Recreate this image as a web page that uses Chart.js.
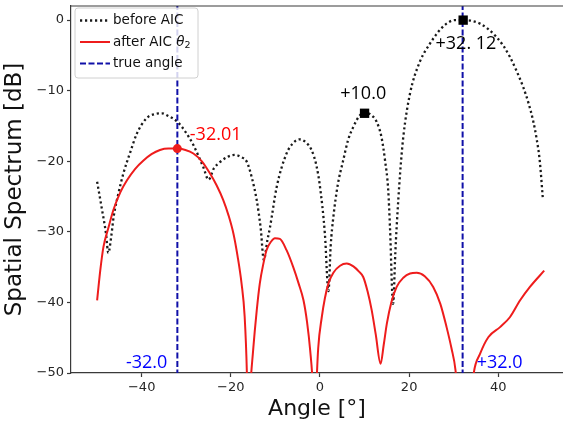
<!DOCTYPE html>
<html><head><meta charset="utf-8">
<script src="https://cdn.jsdelivr.net/npm/chart.js@4/dist/chart.umd.min.js"></script>
<style>html,body{margin:0;padding:0;background:#fff;overflow:hidden}canvas{display:block}</style>
</head><body>
<canvas id="c" width="563" height="426"></canvas>
<script>
// ---- data ----
const beforeX = [-50,-49,-48,-47.5,-46.8,-46.3,-45.2,-44.1,-42.5,-41.1,-38.9,-37,-35.5,-34,-32,-30,-28.4,-26.2,-25.0,-23.8,-22.4,-20.8,-19.1,-17.7,-16.4,-15.3,-14.2,-13.3,-12.6,-11.8,-11.2,-9.7,-7.5,-6,-4.6,-3.2,-1.9,-0.8,0,1.1,1.9,2.4,3.0,4,5.2,6.3,7.5,8.8,10.1,11.4,12.7,13.8,14.6,15.3,15.7,16.4,16.9,17.2,18.0,18.7,20.2,22.4,24.7,26.5,28.4,30.2,32.1,34,35.9,37.8,39.6,41.1,42.6,44.1,45.6,46.8,47.8,48.6,49.3,50];
const beforeY = [-22.9,-26.5,-30.3,-33.0,-30.5,-27.9,-24.5,-21.7,-18.6,-16.1,-13.9,-13.3,-13.2,-13.6,-14.4,-16.0,-17.7,-20.8,-22.6,-21.0,-20.1,-19.4,-19.1,-19.4,-20.1,-22.3,-25.5,-29.5,-34.0,-31.2,-29.3,-23.6,-18.9,-17.4,-16.9,-17.3,-18.4,-20.6,-23.6,-30.3,-38.4,-32.0,-27.9,-23.3,-19.9,-17.0,-15.1,-13.6,-13.1,-13.4,-14.4,-16.6,-19.9,-24.0,-29.3,-40.2,-33.0,-29.3,-21.5,-16.5,-10.4,-5.9,-3.3,-1.7,-0.5,0,0,-0.1,-0.5,-1.3,-2.4,-3.6,-5.2,-7.2,-9.5,-11.8,-14.2,-16.8,-19.9,-25.3];
const afterX = [-50,-49.3,-48.6,-47.5,-46.3,-44.8,-43.3,-41.5,-39.6,-37.8,-35.9,-34,-32,-30.2,-28.4,-26.5,-24.7,-23.2,-21.7,-20.5,-19.4,-18.5,-17.6,-16.9,-16.4,-16.1,-15.8,-15,-14.2,-13.5,-12.7,-12,-11,-10.1,-9,-7.5,-6,-4.8,-3.7,-2.9,-2.2,-1.6,-1.2,-0.8,-0.4,0.4,1.1,1.9,3,4.5,6,7.5,8.7,9.7,10.7,11.6,12.5,13.6,14.3,15,16,17.2,18.7,20.2,21.7,23.5,25.4,27,28.4,29.5,30.4,31.2,32.4,33.6,34.5,35.9,37.8,40.4,42.6,44.9,47.1,50.3];
const afterY = [-39.7,-35.5,-32.2,-29.5,-26.8,-24.4,-22.7,-21.1,-19.9,-19.0,-18.4,-18.2,-18.2,-18.4,-18.9,-20.0,-21.7,-23.4,-25.5,-27.7,-30.3,-33.4,-37.3,-42.0,-50.0,-60,-54,-46.8,-41.2,-37.3,-34.5,-32.6,-31.4,-30.9,-31.0,-32.6,-35.0,-37.3,-39.7,-42.8,-46.8,-52,-60,-52,-46.5,-42.1,-39.4,-37.3,-35.8,-34.8,-34.5,-34.9,-35.6,-36.4,-38.5,-41.1,-44.5,-48.7,-46.0,-43.0,-40.0,-37.8,-36.5,-35.9,-35.8,-36.3,-37.8,-40.2,-43.5,-46.5,-49.6,-56,-70,-56,-50.0,-47.3,-44.9,-43.5,-42.1,-39.7,-37.8,-35.5];
const trueAngles = [-32.0, 32.0];
const peakAfterX = [-32.01];
const peakAfterY = [-18.2];
const peakBeforeX = [10.0, 32.12];
const peakBeforeY = [-13.2, 0.0];
const xTicks = [-40, -20, 0, 20, 40];
const yTicks = [-50, -40, -30, -20, -10, 0];
const seriesLabels = ['before AIC', 'after AIC θ₂', 'true angle'];
const noteText = ['-32.01', '+10.0', '+32. 12', '-32.0', '+32.0'];
const noteX = [-29.2, 9.7, 32.75, -34.26, 35.15];
const noteY = [-16.3, -10.4, -3.3, -48.5, -48.5];
// ---- styling ----
const noteColor = ['#ff0000', '#000000', '#000000', '#0000ff', '#0000ff'];
const noteAlign = ['left', 'center', 'center', 'right', 'left'];
const BLACK = '#1a1a1a', RED = '#ee1c1c', BLUE = '#1010a8';

const pts = (xs, ys) => xs.map((x, i) => ({x: x, y: ys[i]}));

const datasets = [
  {label: seriesLabels[0], data: pts(beforeX, beforeY), borderColor: BLACK, borderWidth: 2.3,
   borderDash: [2.2, 2.8], pointRadius: 0, showLine: true, cubicInterpolationMode: 'monotone', order: 3},
  {label: seriesLabels[1], data: pts(afterX, afterY), borderColor: RED, borderWidth: 2,
   pointRadius: 0, showLine: true, cubicInterpolationMode: 'monotone', order: 2}
];
trueAngles.forEach((a, i) => datasets.push({
  label: i === 0 ? seriesLabels[2] : '', data: [{x: a, y: -60}, {x: a, y: 10}], borderColor: BLUE,
  borderWidth: 2, borderDash: [6, 2.5], pointRadius: 0, showLine: true, order: 1}));
datasets.push({label: '', data: pts(peakAfterX, peakAfterY), pointStyle: 'circle', pointRadius: 4.5,
  backgroundColor: RED, borderColor: RED, borderWidth: 0, showLine: false, order: 0});
datasets.push({label: '', data: pts(peakBeforeX, peakBeforeY), pointStyle: 'rect', pointRadius: 6.6,
  backgroundColor: '#000', borderColor: '#000', borderWidth: 0, showLine: false, order: 0});

const framePlugin = {
  id: 'frame',
  afterDatasetsDraw(chart) {
    const ctx = chart.ctx, xs = chart.scales.x, ys = chart.scales.y;
    ctx.save();
    ctx.font = '18px "Open Sans"';
    ctx.textBaseline = 'middle';
    noteText.forEach((t, i) => {
      ctx.fillStyle = noteColor[i];
      ctx.textAlign = noteAlign[i];
      ctx.fillText(t, xs.getPixelForValue(noteX[i]), ys.getPixelForValue(noteY[i]));
    });
    ctx.restore();
  },
  afterDraw(chart) {
    const ctx = chart.ctx, a = chart.chartArea;
    ctx.save();
    ctx.strokeStyle = '#3a3a3a'; ctx.lineWidth = 1.2;
    ctx.beginPath(); ctx.moveTo(a.left, a.top); ctx.lineTo(a.right + 2, a.top); ctx.stroke();
    const lx = a.left + 4, ly = a.top + 2, lw = 123, lh = 70;
    ctx.beginPath();
    ctx.roundRect(lx, ly, lw, lh, 3);
    ctx.fillStyle = 'rgba(255,255,255,0.82)'; ctx.fill();
    ctx.strokeStyle = '#d0d0d0'; ctx.lineWidth = 1; ctx.stroke();
    const rows = [0, 1, 2].map(i => chart.data.datasets[i]);
    rows.forEach((ds, i) => {
      const y = ly + 12.5 + i * 21.5;
      ctx.beginPath();
      ctx.setLineDash(ds.borderDash || []);
      ctx.strokeStyle = ds.borderColor; ctx.lineWidth = ds.borderWidth;
      ctx.moveTo(lx + 5, y); ctx.lineTo(lx + 35, y); ctx.stroke();
      ctx.setLineDash([]);
      ctx.fillStyle = '#111'; ctx.textAlign = 'left'; ctx.textBaseline = 'middle';
      ctx.font = '13.5px "DejaVu Sans"';
      let label = ds.label, tx = lx + 38;
      const k = label.indexOf('θ');
      if (k >= 0) {
        const base = label.slice(0, k);
        ctx.fillText(base, tx, y); tx += ctx.measureText(base).width;
        ctx.font = 'italic 13.5px "DejaVu Sans"';
        ctx.fillText('θ', tx, y); tx += ctx.measureText('θ').width;
        ctx.font = '9.5px "DejaVu Sans"';
        ctx.fillText('2', tx, y + 3.5);
      } else {
        ctx.fillText(label, tx, y);
      }
    });
    ctx.restore();
  }
};

const minus = v => (v < 0 ? '\u2212' + Math.abs(v) : String(v));

new Chart(document.getElementById('c'), {
  type: 'scatter',
  data: {datasets: datasets},
  options: {
    responsive: false, animation: false, devicePixelRatio: 1,
    layout: {autoPadding: false, padding: {top: 6, right: 0, bottom: 0, left: 0}},
    plugins: {legend: {display: false}, tooltip: {enabled: false}},
    scales: {
      x: {
        type: 'linear', min: -55.86, max: 54.52,
        afterBuildTicks: s => { s.ticks = xTicks.map(v => ({value: v})); },
        afterFit: s => { s.height = 53; s.paddingLeft = 0; s.paddingRight = 0; },
        ticks: {autoSkip: false, maxRotation: 0, padding: 3, color: '#262626',
          font: {family: 'DejaVu Sans', size: 13}, callback: v => minus(v)},
        grid: {drawOnChartArea: false, drawTicks: true, tickLength: 4, tickColor: '#3a3a3a', tickWidth: 1.2},
        border: {color: '#3a3a3a', width: 1.2},
        title: {display: true, text: 'Angle [°]', color: '#111',
          font: {family: 'DejaVu Sans', size: 22}, padding: {top: 0, bottom: 4}}
      },
      y: {
        type: 'linear', min: -50, max: 2,
        afterBuildTicks: s => { s.ticks = yTicks.map(v => ({value: v})); },
        afterFit: s => { s.width = 71; s.paddingTop = 0; s.paddingBottom = 0; },
        ticks: {autoSkip: false, padding: 3, color: '#262626',
          font: {family: 'DejaVu Sans', size: 13}, callback: v => minus(v)},
        grid: {drawOnChartArea: false, drawTicks: true, tickLength: 4, tickColor: '#3a3a3a', tickWidth: 1.2},
        border: {color: '#3a3a3a', width: 1.2},
        title: {display: true, text: 'Spatial Spectrum [dB]', color: '#111',
          font: {family: 'DejaVu Sans', size: 23}, padding: {top: 1.2, bottom: 0}}
      }
    }
  },
  plugins: [framePlugin]
});
</script>
</body></html>
